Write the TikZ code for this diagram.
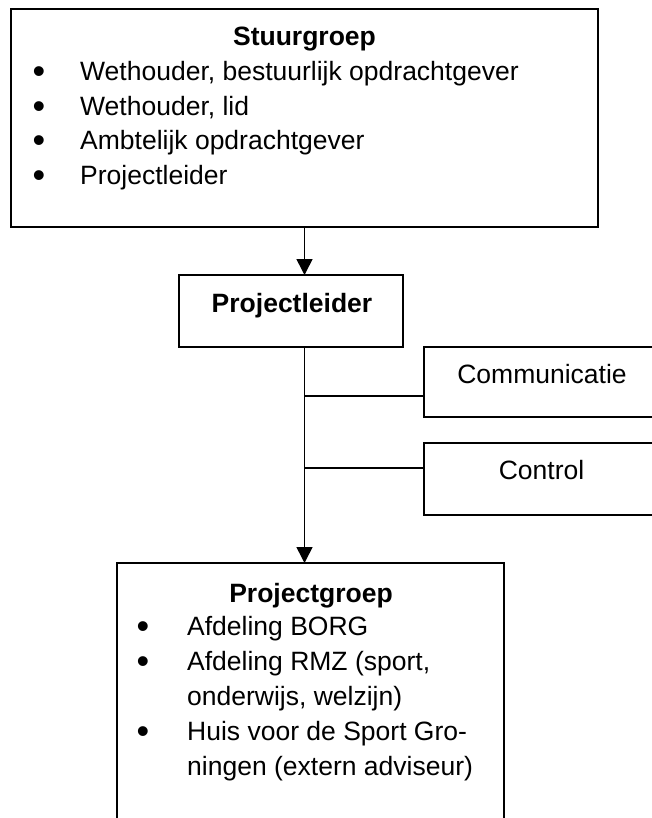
\documentclass[tikz,border=0pt]{standalone}
\usepackage{fontspec}
\setmainfont{Liberation Sans}
\usetikzlibrary{arrows.meta}
\begin{document}
\begin{tikzpicture}[x=1pt,y=-1pt,
  box/.style={draw=black,line width=1.6pt,rectangle,inner sep=0pt,outer sep=0pt,anchor=north west},
  txt/.style={inner sep=0pt,anchor=base west,font=\fontsize{26.5}{35}\selectfont},
  ttl/.style={inner sep=0pt,anchor=base,font=\fontsize{26.5}{35}\selectfont\bfseries},
  lbl/.style={inner sep=0pt,anchor=base,font=\fontsize{26.5}{35}\selectfont},
  bul/.style={inner sep=0pt,anchor=base,font=\fontsize{36}{36}\selectfont},
  conn/.style={line width=1.6pt},
  arr/.style={line width=1.6pt,-{Triangle[width=16pt,length=16pt]}}]
\useasboundingbox (0,0) rectangle (652,818);
\clip (0,0) rectangle (652,818);
\fill[white] (0,0) rectangle (652,818);

% boxes
\node[box,minimum width=587pt,minimum height=218pt] (stuur) at (11,9) {};
\node[box,minimum width=224pt,minimum height=72pt] (pl) at (179,275) {};
\node[box,minimum width=240pt,minimum height=70pt] (comm) at (424,347) {};
\node[box,minimum width=240pt,minimum height=72pt] (ctrl) at (424,443) {};
\node[box,minimum width=387pt,minimum height=270pt] (pg) at (117,563) {};

% Stuurgroep texts
\node[ttl] (stitle) at (304.5,46) {Stuurgroep};
\node[bul] (sb1) at (39,83.5) {•};
\node[txt] (st1) at (80,80.5) {Wethouder, bestuurlijk opdrachtgever};
\node[bul] (sb2) at (39,118.2) {•};
\node[txt] (st2) at (80,115.2) {Wethouder, lid};
\node[bul] (sb3) at (39,152.9) {•};
\node[txt] (st3) at (80,149.9) {Ambtelijk opdrachtgever};
\node[bul] (sb4) at (39,187.6) {•};
\node[txt] (st4) at (80,184.6) {Projectleider};

% Projectleider
\node[ttl] (pltitle) at (292,312) {Projectleider};

% side boxes
\node[lbl] (commt) at (542,383) {Communicatie};
\node[lbl] (ctrlt) at (541.5,479) {Control};

% Projectgroep
\node[ttl] (pgtitle) at (311,602) {Projectgroep};
\node[bul] (pb1) at (143,638) {•};
\node[txt] (pt1) at (187,635) {Afdeling BORG};
\node[bul] (pb2) at (143,673) {•};
\node[txt] (pt2) at (187,670) {Afdeling RMZ (sport,};
\node[txt] (pt3) at (187,705) {onderwijs, welzijn)};
\node[bul] (pb3) at (143,743) {•};
\node[txt] (pt4) at (187,740) {Huis voor de Sport Gro-};
\node[txt] (pt5) at (187,775) {ningen (extern adviseur)};

% connectors
\draw[arr] (stuur.south) -- (stuur.south |- pl.north);
\draw[arr] (pl.south -| stuur.south) -- (pg.north -| stuur.south);
\coordinate (cj) at (304.5,396);
\coordinate (kj) at (304.5,468);
\draw[conn] (cj) -- (cj -| comm.west);
\draw[conn] (kj) -- (kj -| ctrl.west);
\end{tikzpicture}
\end{document}
